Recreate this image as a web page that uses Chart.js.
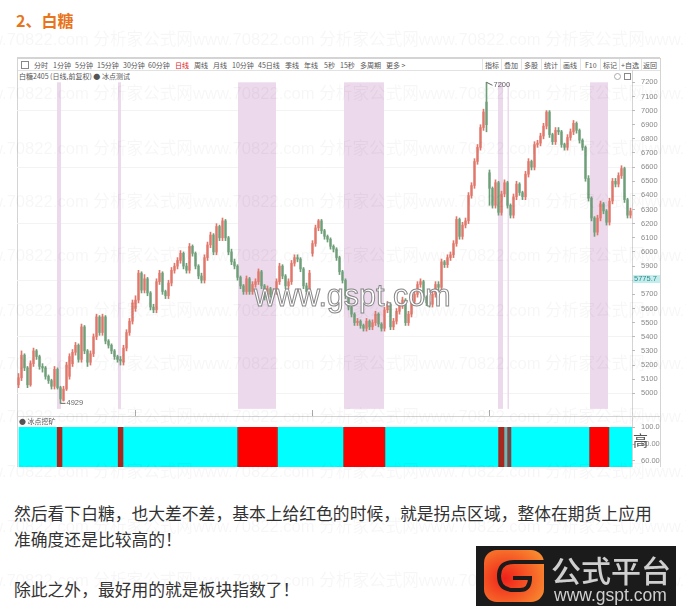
<!DOCTYPE html>
<html>
<head>
<meta charset="utf-8">
<script src="https://cdn.jsdelivr.net/npm/chart.js@4/dist/chart.umd.js"></script>
<style>
  html, body { margin: 0; padding: 0; background: #fff; }
  body { width: 686px; height: 608px; position: relative; overflow: hidden; font-family: "Noto Sans CJK SC", sans-serif; }
  .abs { position: absolute; white-space: nowrap; }
  .line { position: absolute; background: #d4d4d4; }
  .tool { position: absolute; top: 61px; font-size: 7px; line-height: 9px; color: #555; white-space: nowrap; }
  .sep { position: absolute; top: 59px; width: 1px; height: 11px; background: #e4e4e4; }
  #mark { position: absolute; left: 0; top: 0; width: 686px; height: 608px; pointer-events: none; z-index: 5; overflow: hidden; }
  #mark div { position: absolute; left: -33px; white-space: pre; font: 16.6px "Liberation Sans", "Noto Sans CJK SC", sans-serif; color: rgba(0,0,0,.035); }
  .copy { position: absolute; left: 14px; font-size: 16.8px; line-height: 26px; color: #333; white-space: nowrap; }
  #mainCanvas { position: absolute; left: 17px; top: 71px; filter: blur(.4px); }
  #signalCanvas { position: absolute; left: 17px; top: 417px; filter: blur(.3px); }
</style>
</head>
<body>
<div class="abs" style="left:16px;top:9px;font-size:16px;line-height:22px;font-weight:700;color:#e8741c">2、白糖</div>

<div class="line" style="left:17px;top:57px;width:643px;height:2px"></div>
<div class="line" style="left:17px;top:70px;width:643px;height:1px;background:#e2e2e2"></div>
<div class="line" style="left:17px;top:58px;width:1px;height:409px"></div>
<div class="line" style="left:632px;top:70px;width:1px;height:397px"></div>
<div class="line" style="left:660px;top:58px;width:1px;height:409px"></div>
<div class="line" style="left:17px;top:416px;width:643px;height:1px"></div>

<div class="abs" style="left:21px;top:61px;width:6px;height:6px;border:1px solid #888"></div>
<div id="toolbar"></div>
<div class="abs" style="left:19px;top:72px;font-size:7px;line-height:9px;color:#555">白糖2405 (日线,前复权) ● 冰点测试</div>
<div class="abs" style="left:614px;top:73px;width:5px;height:5px;border:1px solid #aaa;border-radius:50%"></div>
<div class="abs" style="left:624px;top:73px;width:5px;height:5px;border:1px solid #888"></div>

<canvas id="mainCanvas" width="643" height="345"></canvas>

<div class="abs" style="left:19px;top:417px;font-size:7px;line-height:9px;color:#555">● 冰点挖矿</div>
<canvas id="signalCanvas" width="643" height="53"></canvas>
<div class="abs" style="left:633px;top:430px;font-size:15px;line-height:19px;color:#555">高</div>

<div class="abs" style="left:254px;top:277px;font:30.5px/36px 'Liberation Sans',sans-serif;color:#fff;-webkit-text-stroke:1px #888;z-index:6">www.gspt.com</div>

<div class="copy" style="top:500px">然后看下白糖，也大差不差，基本上给红色的时候，就是拐点区域，整体在期货上应用</div>
<div class="copy" style="top:526px">准确度还是比较高的！</div>
<div class="copy" style="top:576px">除此之外，最好用的就是板块指数了！</div>

<div id="mark"></div>

<div class="abs" style="left:476px;top:546px;width:200px;height:60px;background:#1b1b1b;z-index:7">
  <svg style="position:absolute;left:8px;top:4px" width="60" height="52" viewBox="0 0 60 52">
    <defs>
      <radialGradient id="logoFill" cx="35%" cy="55%" r="75%">
        <stop offset="0" stop-color="#f0201a"/><stop offset="1" stop-color="#f98c30"/>
      </radialGradient>
    </defs>
    <rect x="0" y="0" width="60" height="52" rx="13" fill="url(#logoFill)"/>
    <path d="M60 12 H30 Q15 12 15 26 Q15 40 30 40 H36 Q46 40 46 28 H29" fill="none" stroke="#1b1b1b" stroke-width="4"/>
  </svg>
  <div class="abs" style="left:75px;top:5px;font-size:30px;line-height:36px;font-weight:500;color:#cfcfcf">公式平台</div>
  <div class="abs" style="left:78px;top:39px;font:17.5px/20px 'Liberation Sans',sans-serif;color:#cfcfcf">www.gspt.com</div>
</div>

<script>
// one candle per 3px
const opens = [
  5060,5110,5270,5180,5060,5210,5300,5260,5190,5180,
  5120,5090,5050,5170,5040,4950,5030,5120,5210,5290,
  5340,5240,5470,5300,5220,5280,5400,5540,5430,5540,
  5370,5340,5300,5260,5240,5220,5320,5430,5510,5600,
  5660,5850,5730,5810,5710,5610,5590,5790,5850,5720,
  5690,5780,5870,5900,5940,5990,5900,5870,6040,5990,
  5900,5830,5800,5960,6050,6120,6000,6180,6100,6220,
  6100,6000,5930,5900,5820,5760,5720,5810,5720,5770,
  5790,5860,5760,5680,5740,5700,5720,5790,5900,5830,
  5760,5790,5920,5960,5950,5880,5760,5720,5990,6060,
  6170,6220,6150,6110,6090,6040,6020,5960,5860,5800,
  5690,5610,5560,5500,5510,5480,5460,5510,5470,5500,
  5560,5490,5460,5590,5630,5470,5510,5580,5620,5660,
  5500,5560,5650,5700,5770,5790,5680,5640,5630,5700,
  5770,5750,5930,5910,5960,5980,6060,6230,6110,6190,
  6220,6400,6470,6640,6740,6880,7060,6560,6450,6330,
  6490,6280,6410,6490,6330,6260,6390,6480,6420,6390,
  6550,6640,6600,6760,6770,6820,6890,6990,6830,6780,
  6860,6850,6760,6740,6810,6850,6910,6860,6790,6740,
  6520,6380,6240,6140,6240,6340,6290,6210,6360,6500,
  6480,6540,6590,6370,6260
];
const closes = [
  5110,5270,5180,5060,5210,5300,5260,5190,5180,5120,
  5090,5050,5170,5040,4960,5030,5200,5260,5290,5340,
  5240,5470,5300,5220,5280,5400,5540,5430,5540,5370,
  5340,5300,5260,5240,5230,5320,5430,5510,5640,5660,
  5850,5730,5810,5710,5610,5590,5790,5850,5720,5690,
  5780,5870,5900,5940,5990,5900,5870,6040,5990,5900,
  5830,5800,5960,6050,6120,6000,6180,6100,6220,6100,
  6000,5930,5900,5820,5760,5720,5810,5720,5770,5790,
  5860,5760,5680,5740,5700,5720,5790,5900,5830,5760,
  5790,5920,5960,5950,5880,5760,5720,5850,6060,6170,
  6220,6150,6110,6090,6040,6020,5960,5860,5800,5690,
  5610,5560,5500,5510,5480,5460,5510,5470,5500,5560,
  5490,5460,5590,5630,5470,5510,5580,5620,5660,5500,
  5560,5650,5700,5770,5790,5680,5640,5630,5700,5770,
  5750,5930,5910,5960,5980,6060,6230,6110,6190,6220,
  6400,6470,6640,6740,6880,6990,6900,6450,6330,6490,
  6280,6410,6490,6330,6260,6390,6480,6420,6390,6550,
  6640,6600,6760,6770,6820,6890,6990,6830,6780,6860,
  6850,6760,6740,6810,6850,6910,6860,6790,6740,6520,
  6380,6240,6140,6240,6340,6290,6210,6360,6500,6480,
  6540,6590,6370,6260,6290
];
const highs = [
  5140,5300,5280,5190,5230,5320,5310,5270,5210,5190,
  5130,5100,5190,5180,5050,5050,5220,5280,5310,5360,
  5350,5490,5480,5310,5300,5420,5560,5550,5560,5550,
  5380,5350,5310,5270,5260,5340,5450,5530,5660,5690,
  5870,5860,5840,5820,5720,5630,5810,5870,5860,5730,
  5800,5890,5920,5960,6010,6000,5920,6060,6050,6000,
  5910,5850,5980,6070,6140,6130,6200,6190,6240,6230,
  6110,6020,5950,5910,5830,5770,5830,5820,5790,5810,
  5880,5870,5770,5760,5750,5740,5810,5920,5910,5840,
  5810,5940,5980,5980,5960,5890,5780,5870,6080,6190,
  6230,6230,6160,6120,6100,6050,6030,5970,5870,5810,
  5700,5620,5570,5530,5520,5490,5530,5520,5520,5580,
  5570,5500,5610,5650,5640,5530,5600,5640,5680,5670,
  5580,5670,5720,5790,5810,5800,5690,5650,5720,5790,
  5790,5950,5940,5980,6000,6080,6250,6240,6210,6240,
  6420,6490,6660,6760,6900,7010,7200,6580,6460,6510,
  6500,6430,6510,6500,6340,6410,6500,6490,6430,6570,
  6660,6650,6780,6790,6840,6910,7000,7000,6840,6880,
  6880,6860,6770,6830,6870,6930,6920,6870,6800,6750,
  6540,6390,6250,6260,6360,6350,6300,6380,6520,6520,
  6560,6610,6600,6380,6310
];
const lows = [
  5040,5090,5160,5040,5050,5190,5240,5170,5150,5100,
  5070,5030,5030,5030,4929,4945,5020,5100,5190,5270,
  5220,5220,5280,5190,5200,5260,5380,5410,5410,5350,
  5320,5280,5240,5220,5200,5200,5300,5410,5490,5580,
  5640,5710,5710,5690,5590,5570,5570,5770,5700,5670,
  5670,5760,5850,5880,5920,5880,5850,5850,5970,5880,
  5810,5780,5780,5940,6030,5980,5980,6080,6080,6080,
  5980,5910,5880,5800,5740,5700,5700,5700,5700,5750,
  5770,5740,5660,5660,5680,5680,5700,5770,5810,5740,
  5740,5770,5900,5930,5860,5740,5700,5700,5970,6040,
  6150,6130,6090,6070,6020,6000,5940,5840,5780,5670,
  5590,5540,5480,5480,5460,5440,5440,5450,5450,5480,
  5470,5440,5440,5570,5450,5450,5490,5560,5600,5480,
  5480,5540,5630,5680,5750,5660,5620,5610,5610,5680,
  5730,5730,5890,5890,5940,5960,6040,6090,6090,6170,
  6200,6380,6450,6620,6720,6860,6850,6330,6310,6310,
  6260,6260,6390,6310,6240,6240,6370,6400,6370,6370,
  6530,6580,6580,6740,6750,6800,6870,6810,6760,6760,
  6830,6740,6720,6720,6790,6830,6840,6770,6720,6500,
  6360,6220,6110,6120,6220,6270,6190,6190,6340,6460,
  6460,6520,6350,6240,6240
];
const candleLabels = closes.map((_, i) => i);
const xTickIndexes = [39, 98, 157];

const yTicks = [5000,5100,5200,5300,5400,5500,5600,5700,5800,5900,6000,6100,6200,6300,6400,6500,6600,6700,6800,6900,7000,7100,7200];
const gridValues = [5000,5400,5800,6200,6600,7000];

// pink zones, in candle index units
const bandStarts = [12.83, 33.17, 73.17, 108.5, 159.83, 163.0, 190.5];
const bandEnds   = [14.17, 34.17, 85.83, 121.83, 161.5, 163.5, 196.5];
const bandTop = 7200;
const bandBottom = 4890;

const lastPriceLabel = "5775.7";
const lastPriceLevel = 5808;

// lower panel: widths in candle units, left to right
const signalWidths = [0.67, 12.5, 1.83, 18.5, 1.83, 38, 0.5, 12.67, 0.33, 21.83, 0.33, 13.33, 0.33, 37.67, 2, 1, 1.33, 26, 0.33, 6, 0.33, 7.67];
const signalStates = ["none","low","edge","low","edge","low","edge","high","edge","low","edge","high","edge","low","edge","mid","dim","low","edge","high","edge","low"];
const signalTicks = [60, 80, 100];
const signalTickText = {60: "60.00", 80: "80.00", 100: "100.0"};

const toolLabels = ["分时","1分钟","5分钟","15分钟","30分钟","60分钟","日线","周线","月线","10分钟","45日线","季线","年线","5秒","15秒","多周期","更多 >","指标","叠加","多股","统计","画线","F10","标记","+自选","返回"];
const toolLefts = [34,53,75,97,123,148,175,194,213,232,258,285,304,324,340,360,386,485,504,524,544,563,585,603,621,643];
const toolSeparators = [482,501,521,541,560,580,600,619,641];

const watermarkRows = [36,90,145,198,252,307,360,413,468,523,577];

const signalColors = {none: "rgba(0,0,0,0)", low: "#00ffff", edge: "#a8281f", high: "#ff0000", mid: "#6fb8b8", dim: "#7a4444"};
const upColor = "#e0776a";
const downColor = "#6f9f78";

const toolbar = document.getElementById("toolbar");
toolLabels.forEach((t, i) => {
  const el = document.createElement("div");
  el.className = "tool";
  el.textContent = t;
  el.style.left = toolLefts[i] + "px";
  if (t === "日线") el.style.color = "#e02020";
  toolbar.appendChild(el);
});
toolSeparators.forEach(x => {
  const el = document.createElement("div");
  el.className = "sep";
  el.style.left = x + "px";
  toolbar.appendChild(el);
});
const mark = document.getElementById("mark");
watermarkRows.forEach(y => {
  const el = document.createElement("div");
  el.textContent = "www.70822.com 分析家公式网".repeat(4);
  el.style.top = (y - 10) + "px";
  mark.appendChild(el);
});

const zonesAndNotes = {
  id: "zonesAndNotes",
  beforeDatasetsDraw(chart) {
    const {ctx, scales: {x, y}} = chart;
    ctx.save();
    ctx.fillStyle = "#ecd9ec";
    const top = y.getPixelForValue(bandTop);
    const bottom = y.getPixelForValue(bandBottom);
    bandStarts.forEach((s, i) => {
      const a = x.getPixelForValue(s);
      const b = x.getPixelForValue(bandEnds[i]);
      ctx.fillRect(a, top, b - a, bottom - top);
    });
    ctx.restore();
  },
  afterDraw(chart) {
    const {ctx, scales: {x, y}} = chart;
    ctx.save();
    ctx.font = '7.5px "Liberation Sans"';
    ctx.textBaseline = "middle";
    ctx.strokeStyle = "#666";
    ctx.fillStyle = "#666";
    ctx.lineWidth = 1;

    const hi = Math.max(...highs);
    const hx = x.getPixelForValue(highs.indexOf(hi));
    const hy = y.getPixelForValue(hi);
    ctx.beginPath(); ctx.moveTo(hx, hy); ctx.lineTo(hx + 6, hy + 3); ctx.stroke();
    ctx.fillText(String(hi), hx + 7, hy + 3);

    const lo = Math.min(...lows);
    const lx = x.getPixelForValue(lows.indexOf(lo));
    const ly = y.getPixelForValue(lo);
    ctx.beginPath(); ctx.moveTo(lx, ly); ctx.lineTo(lx + 5, ly); ctx.stroke();
    ctx.fillText(String(lo), lx + 6, ly);

    // last price tag on the axis
    const py = y.getPixelForValue(lastPriceLevel);
    ctx.fillStyle = "#c4ecec";
    ctx.fillRect(x.right + 1, py - 4, 27, 8);
    ctx.fillStyle = "#2c8f8f";
    ctx.fillText(lastPriceLabel, x.right + 2, py);
    ctx.restore();
  }
};

// the layout reserves half a label height at both ends otherwise
const fitRightAxis = s => {
  s.width = 28;
  s.paddingTop = 0;
  s.paddingBottom = 0;
};

new Chart(document.getElementById("mainCanvas"), {
  type: "bar",
  data: {
    labels: candleLabels,
    datasets: [
      {
        data: closes.map((_, i) => [lows[i], highs[i]]),
        barThickness: 1,
        grouped: false,
        backgroundColor: closes.map((c, i) => c >= opens[i] ? upColor : downColor)
      },
      {
        data: closes.map((c, i) => [opens[i], c]),
        barThickness: 1.6,
        grouped: false,
        backgroundColor: closes.map((c, i) => c >= opens[i] ? upColor : downColor)
      }
    ]
  },
  options: {
    responsive: false,
    animation: false,
    layout: {padding: 0},
    plugins: {legend: {display: false}, tooltip: {enabled: false}},
    scales: {
      x: {
        offset: true,
        border: {display: false},
        grid: {
          offset: false,
          drawOnChartArea: false,
          tickLength: 6,
          tickColor: c => xTickIndexes.includes(c.index) ? "#aaa" : "rgba(0,0,0,0)"
        },
        ticks: {display: false, autoSkip: false},
        afterFit: s => { s.height = 6; }
      },
      y: {
        position: "right",
        min: 4882,
        max: 7280,
        border: {display: false},
        grid: {
          tickLength: 3,
          tickColor: "#bbb",
          color: c => c.tick && gridValues.includes(c.tick.value) ? "#f3f3f3" : "rgba(0,0,0,0)"
        },
        ticks: {
          autoSkip: false,
          padding: 6,
          crossAlign: "near",
          color: "#8a8a8a",
          font: {family: "Liberation Sans", size: 7.5},
          callback: v => String(v)
        },
        afterBuildTicks: s => { s.ticks = yTicks.map(v => ({value: v})); },
        afterFit: fitRightAxis
      }
    }
  },
  plugins: [zonesAndNotes]
});

new Chart(document.getElementById("signalCanvas"), {
  type: "bar",
  data: {
    labels: ["signal"],
    datasets: signalWidths.map((w, i) => ({
      data: [w],
      backgroundColor: signalColors[signalStates[i]],
      barPercentage: 1,
      categoryPercentage: 1,
      stack: "s"
    }))
  },
  options: {
    indexAxis: "y",
    responsive: false,
    animation: false,
    layout: {padding: {top: 10, bottom: 3, left: 0, right: 0}},
    plugins: {legend: {display: false}, tooltip: {enabled: false}},
    scales: {
      x: {display: false, stacked: true, min: 0, max: 205},
      y: {display: false, stacked: true},
      y2: {
        axis: "y",
        type: "linear",
        position: "right",
        offset: false,
        min: 52.4,
        max: 100.4,
        border: {display: false},
        grid: {offset: false, drawOnChartArea: false, tickLength: 3, tickColor: "#bbb"},
        ticks: {
          autoSkip: false,
          padding: 6,
          crossAlign: "near",
          color: "#8a8a8a",
          font: {family: "Liberation Sans", size: 7.5},
          callback: v => signalTickText[v]
        },
        afterBuildTicks: s => { s.ticks = signalTicks.map(v => ({value: v})); },
        afterFit: fitRightAxis
      }
    }
  }
});
</script>
</body>
</html>
